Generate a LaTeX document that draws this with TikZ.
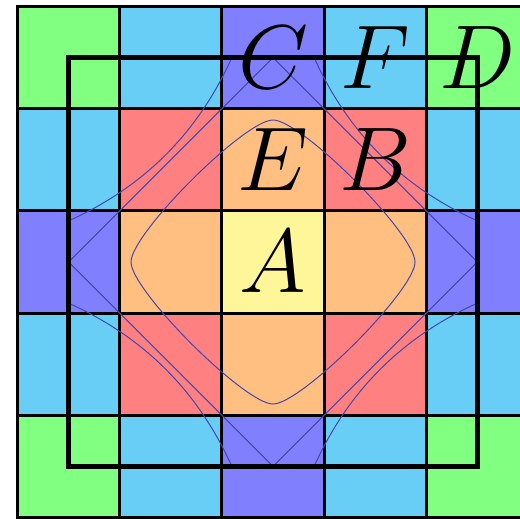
\documentclass[tikz,border=0pt]{standalone}
\usepackage{amsmath}
\usepackage{tikz}

\begin{document}
\begin{tikzpicture}[x=0.75pt,y=0.75pt,yscale=-1,xscale=1,
  cell/.style={draw=black,line width=2.2},
  gcell/.style={cell,fill={rgb, 255:red, 128; green, 255; blue, 128 }},
  ccell/.style={cell,fill={rgb, 255:red, 104; green, 206; blue, 245 }},
  bcell/.style={cell,fill={rgb, 255:red, 128; green, 128; blue, 255 }},
  rcell/.style={cell,fill={rgb, 255:red, 255; green, 128; blue, 128 }},
  ocell/.style={cell,fill={rgb, 255:red, 255; green, 191; blue, 128 }},
  ycell/.style={cell,fill={rgb, 255:red, 255; green, 245; blue, 153 }},
  level/.style={color={rgb, 255:red, 70; green, 70; blue, 175 },line width=0.75},
  lbl/.style={font=\Huge,scale=2.73}]
%diagram area is 520 x 518
\clip (0,0) rectangle (520,518);
%Shape: Square row 1
\draw [gcell] (17.5,6.5) -- (119.7,6.5) -- (119.7,108.7) -- (17.5,108.7) -- cycle ;
\draw [ccell] (119.7,6.5) -- (221.9,6.5) -- (221.9,108.7) -- (119.7,108.7) -- cycle ;
\draw [bcell] (221.9,6.5) -- (324.1,6.5) -- (324.1,108.7) -- (221.9,108.7) -- cycle ;
\draw [ccell] (324.1,6.5) -- (426.3,6.5) -- (426.3,108.7) -- (324.1,108.7) -- cycle ;
\draw [gcell] (426.3,6.5) -- (528.5,6.5) -- (528.5,108.7) -- (426.3,108.7) -- cycle ;
%Shape: Square row 2
\draw [ccell] (17.5,108.7) -- (119.7,108.7) -- (119.7,210.9) -- (17.5,210.9) -- cycle ;
\draw [rcell] (119.7,108.7) -- (221.9,108.7) -- (221.9,210.9) -- (119.7,210.9) -- cycle ;
\draw [ocell] (221.9,108.7) -- (324.1,108.7) -- (324.1,210.9) -- (221.9,210.9) -- cycle ;
\draw [rcell] (324.1,108.7) -- (426.3,108.7) -- (426.3,210.9) -- (324.1,210.9) -- cycle ;
\draw [ccell] (426.3,108.7) -- (528.5,108.7) -- (528.5,210.9) -- (426.3,210.9) -- cycle ;
%Shape: Square row 3
\draw [bcell] (17.5,210.9) -- (119.7,210.9) -- (119.7,313.1) -- (17.5,313.1) -- cycle ;
\draw [ocell] (119.7,210.9) -- (221.9,210.9) -- (221.9,313.1) -- (119.7,313.1) -- cycle ;
\draw [ycell] (221.9,210.9) -- (324.1,210.9) -- (324.1,313.1) -- (221.9,313.1) -- cycle ;
\draw [ocell] (324.1,210.9) -- (426.3,210.9) -- (426.3,313.1) -- (324.1,313.1) -- cycle ;
\draw [bcell] (426.3,210.9) -- (528.5,210.9) -- (528.5,313.1) -- (426.3,313.1) -- cycle ;
%Shape: Square row 4
\draw [ccell] (17.5,313.1) -- (119.7,313.1) -- (119.7,415.3) -- (17.5,415.3) -- cycle ;
\draw [rcell] (119.7,313.1) -- (221.9,313.1) -- (221.9,415.3) -- (119.7,415.3) -- cycle ;
\draw [ocell] (221.9,313.1) -- (324.1,313.1) -- (324.1,415.3) -- (221.9,415.3) -- cycle ;
\draw [rcell] (324.1,313.1) -- (426.3,313.1) -- (426.3,415.3) -- (324.1,415.3) -- cycle ;
\draw [ccell] (426.3,313.1) -- (528.5,313.1) -- (528.5,415.3) -- (426.3,415.3) -- cycle ;
%Shape: Square row 5
\draw [gcell] (17.5,415.3) -- (119.7,415.3) -- (119.7,517.5) -- (17.5,517.5) -- cycle ;
\draw [ccell] (119.7,415.3) -- (221.9,415.3) -- (221.9,517.5) -- (119.7,517.5) -- cycle ;
\draw [bcell] (221.9,415.3) -- (324.1,415.3) -- (324.1,517.5) -- (221.9,517.5) -- cycle ;
\draw [ccell] (324.1,415.3) -- (426.3,415.3) -- (426.3,517.5) -- (324.1,517.5) -- cycle ;
\draw [gcell] (426.3,415.3) -- (528.5,415.3) -- (528.5,517.5) -- (426.3,517.5) -- cycle ;
\begin{scope}
\clip (68.6,57.6) rectangle (477.4,466.4);
%Curve Lines inner
\draw [level] (273,120) .. controls (301.4,120) and (415,233.6) .. (415,262) .. controls (415,290.4) and (301.4,404) .. (273,404) .. controls (244.6,404) and (131,290.4) .. (131,262) .. controls (131,233.6) and (244.6,120) .. (273,120) -- cycle ;
%Straight Lines diamond
\draw [level] (273,57.6) -- (477.4,262) -- (273,466.4) -- (68.6,262) -- cycle ;
%Curve Lines outer
\draw [level] (702,262) .. controls (416,262) and (273,119) .. (273,-167) ;
\draw [level] (273,-167) .. controls (273,119) and (130,262) .. (-156,262) ;
\draw [level] (-156,262) .. controls (130,262) and (273,405) .. (273,691) ;
\draw [level] (273,691) .. controls (273,405) and (416,262) .. (702,262) ;
\end{scope}
%Shape: Rectangle
\draw [line width=3.2] (68.6,57.6) -- (477.4,57.6) -- (477.4,466.4) -- (68.6,466.4) -- cycle ;
% Text Node
\draw (273,262) node (lblA) [lbl] {$A$};
% Text Node
\draw (375.2,159.8) node (lblB) [lbl] {$B$};
% Text Node
\draw (273,57.6) node (lblC) [lbl] {$C$};
% Text Node
\draw (477.4,57.6) node (lblD) [lbl] {$D$};
% Text Node
\draw (273,159.8) node (lblE) [lbl] {$E$};
% Text Node
\draw (375.2,57.6) node (lblF) [lbl] {$F$};
\end{tikzpicture}
\end{document}
